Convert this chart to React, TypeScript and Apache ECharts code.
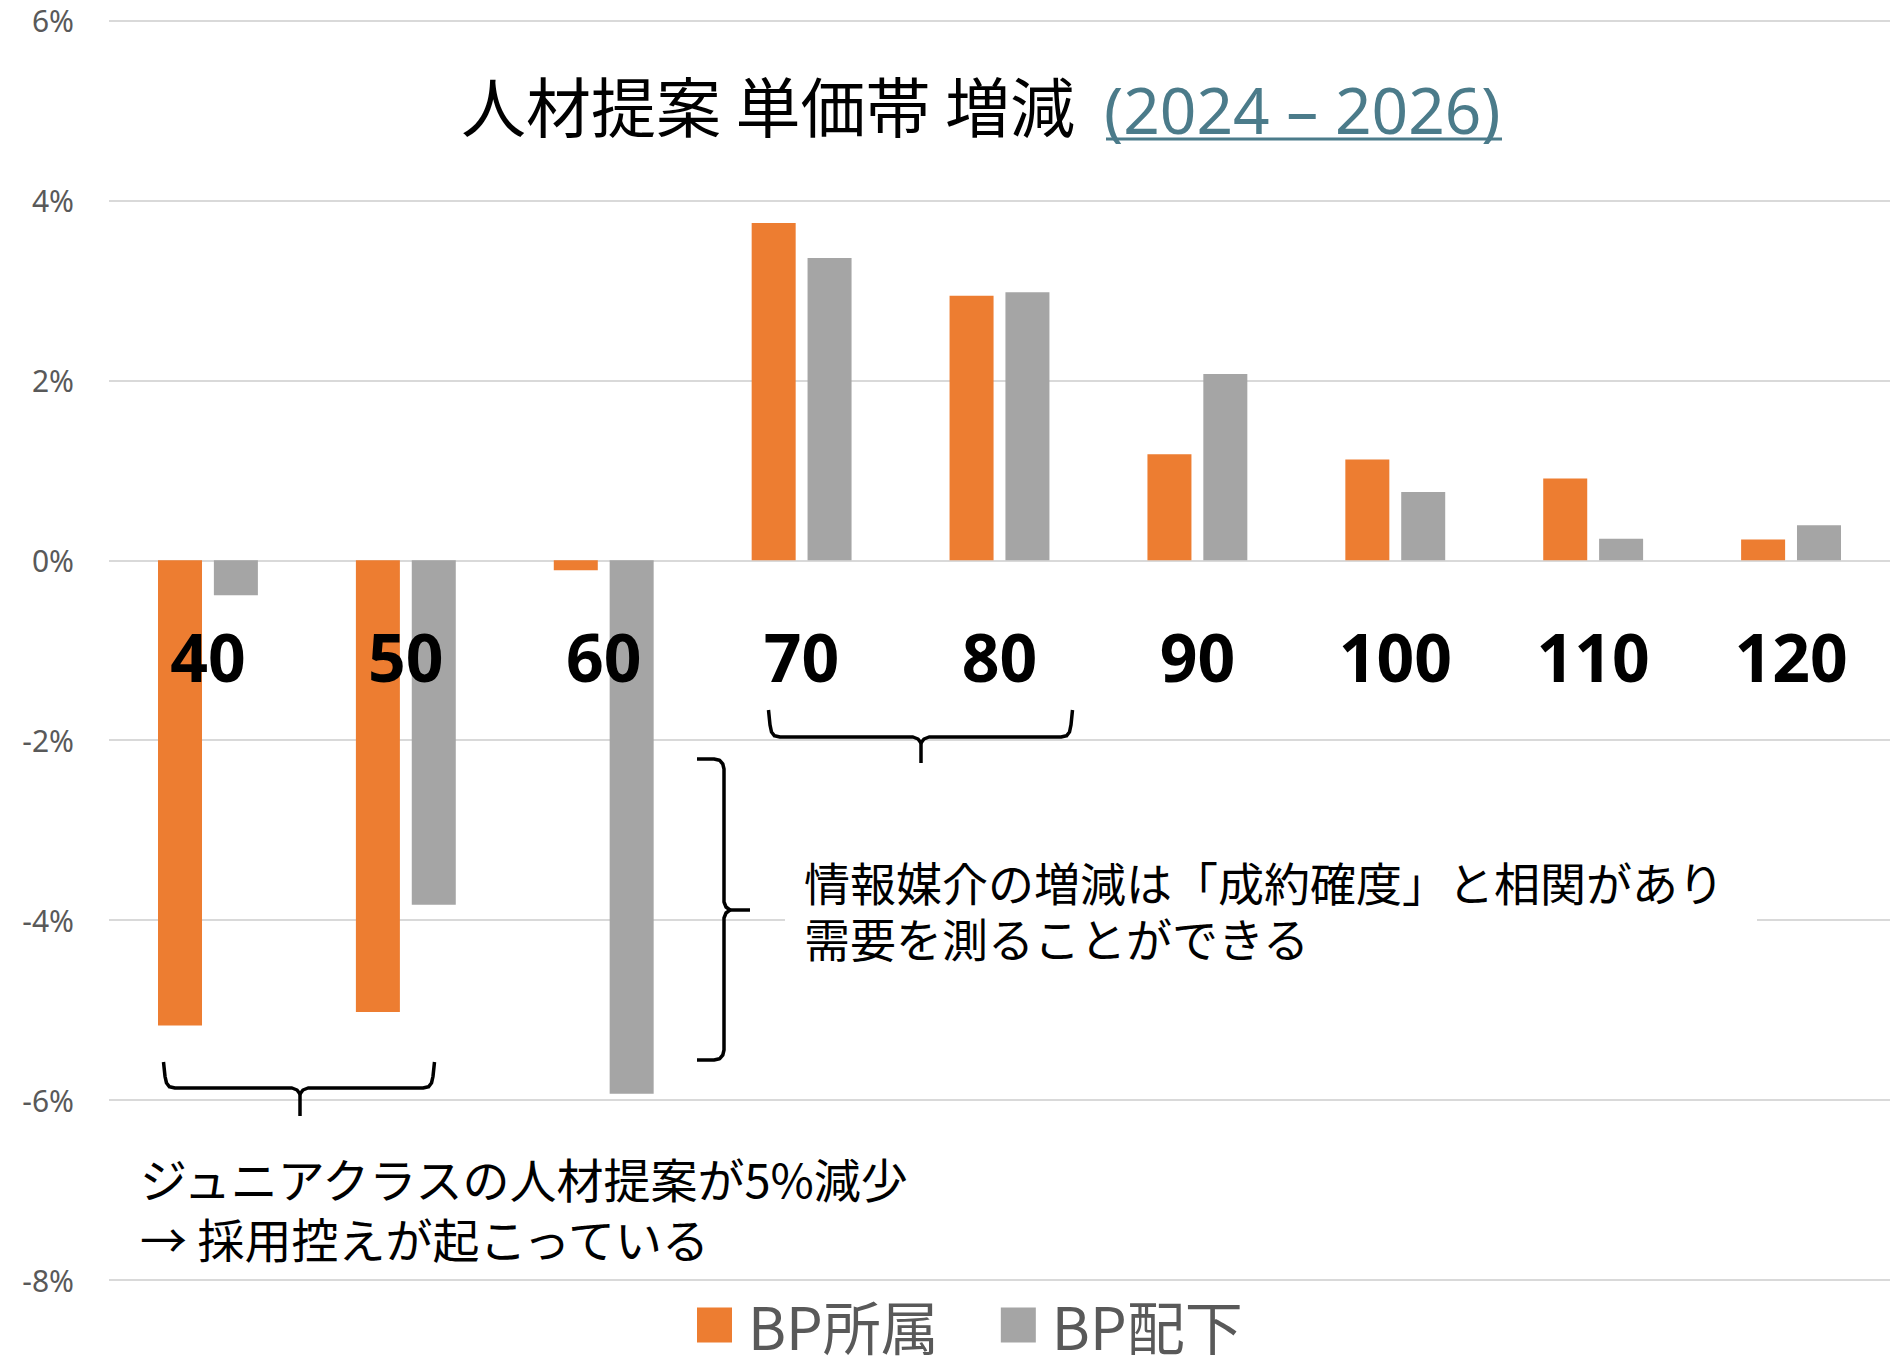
import React, { useEffect, useRef } from 'react';
import * as echarts from 'echarts';

// ---- data ----
const categories = ['40', '50', '60', '70', '80', '90', '100', '110', '120'];
const seriesNames = ['BP所属', 'BP配下'];
const bpShozoku = [-5.17, -5.02, -0.11, 3.75, 2.94, 1.18, 1.12, 0.91, 0.23];
const bpHaika = [-0.39, -3.83, -5.93, 3.36, 2.98, 2.07, 0.76, 0.24, 0.39];
const yMin = -8;
const yMax = 6;
const yStep = 2;

const titleMain = '人材提案 単価帯 増減';
const titleSub = '(2024 – 2026)';
const note1 = '情報媒介の増減は「成約確度」と相関があり\n需要を測ることができる';
const note2 = 'ジュニアクラスの人材提案が5%減少\n→ 採用控えが起こっている';

const JP = '"Noto Sans CJK JP", "Noto Sans", sans-serif';
const LAT = '"Noto Sans", "Noto Sans CJK JP", sans-serif';

// layout (pixels)
const W = 1892;
const H = 1357;
const GRID_TOP = 20.5;
const GRID_BOTTOM = 77;

type P = [number, number];

function hBrace(x1: number, x2: number, yTop: number, yBar: number, xm: number, yTip: number): P[][] {
  const main: P[] = [
    [x1 - 1.5, yTop], [x1, yTop + (yBar - yTop) * 0.55], [x1 + 1.5, yBar - 5], [x1 + 4.5, yBar - 1.2], [x1 + 10, yBar],
    [xm - 8, yBar], [xm - 3, yBar + 2], [xm, yBar + 6], [xm + 3, yBar + 2], [xm + 8, yBar],
    [x2 - 10, yBar], [x2 - 4.5, yBar - 1.2], [x2 - 1.5, yBar - 5], [x2, yTop + (yBar - yTop) * 0.55], [x2 + 1.5, yTop],
  ];
  const stub: P[] = [[xm, yBar + 3], [xm, yTip]];
  return [main, stub];
}

function vBrace(xEnd: number, xv: number, yTop: number, yBot: number, ym: number, xTip: number): P[][] {
  const main: P[] = [
    [xEnd, yTop], [xv - 10, yTop], [xv - 4.5, yTop + 1.2], [xv - 1.2, yTop + 5], [xv, yTop + 10],
    [xv, ym - 8], [xv + 2, ym - 3], [xv + 6, ym], [xv + 2, ym + 3], [xv, ym + 8],
    [xv, yBot - 10], [xv - 1.2, yBot - 5], [xv - 4.5, yBot - 1.2], [xv - 10, yBot], [xEnd, yBot],
  ];
  const stub: P[] = [[xv + 3, ym], [xTip, ym]];
  return [main, stub];
}

export default function App() {
  const ref = useRef<HTMLDivElement>(null);

  useEffect(() => {
    document.body.style.margin = '0';
    if (!ref.current) return;
    const chart = echarts.init(ref.current, undefined, { renderer: 'svg' });

    // place category axis on the zero line of the value axis
    const gridH = H - GRID_TOP - GRID_BOTTOM;
    const zeroFromBottom = ((0 - yMin) / (yMax - yMin)) * gridH;

    const braces = [
      ...hBrace(165, 433, 1062, 1088, 300, 1116),
      ...hBrace(770, 1071, 710, 737, 921, 763),
      ...vBrace(697, 724, 759, 1060, 910, 750),
    ].map((pts) => ({
      type: 'polyline',
      shape: { points: pts },
      style: { stroke: '#000', lineWidth: 3.5, fill: null, lineJoin: 'round' },
      z: 100,
    }));

    const option: any = {
      animation: false,
      backgroundColor: '#ffffff',
      grid: { left: 109, right: 2, top: GRID_TOP, bottom: GRID_BOTTOM, containLabel: false, outerBoundsMode: 'none' },
      legend: {
        data: seriesNames,
        left: 697,
        top: 1296,
        padding: 0,
        itemWidth: 35,
        itemHeight: 35,
        itemGap: 62,
        icon: 'rect',
        textStyle: { fontSize: 58, lineHeight: 58, color: '#595959', fontFamily: JP, padding: [0, 0, 0, 11] },
      },
      xAxis: {
        type: 'category',
        data: categories,
        position: 'bottom',
        offset: -zeroFromBottom,
        z: 10,
        axisLine: { show: false, onZero: false },
        axisTick: { show: false },
        axisLabel: {
          interval: 0,
          margin: 63,
          fontSize: 66,
          lineHeight: 66,
          fontWeight: 'bold',
          color: '#000000',
          fontFamily: LAT,
        },
      },
      yAxis: {
        type: 'value',
        min: yMin,
        max: yMax,
        interval: yStep,
        axisLine: { show: false },
        axisTick: { show: false },
        axisLabel: { formatter: '{value}%', color: '#595959', fontSize: 30, margin: 35, fontFamily: LAT },
        splitLine: { lineStyle: { color: '#d9d9d9', width: 2 } },
      },
      series: [
        {
          name: seriesNames[0],
          type: 'bar',
          data: bpShozoku,
          barWidth: 44,
          barGap: '27%',
          itemStyle: { color: '#ED7D31' },
        },
        {
          name: seriesNames[1],
          type: 'bar',
          data: bpHaika,
          barWidth: 44,
          barGap: '27%',
          itemStyle: { color: '#A5A5A5' },
        },
      ],
      graphic: [
        {
          type: 'text',
          x: 768,
          y: 104,
          z: 100,
          style: { text: titleMain, fontSize: 65, fontFamily: JP, fill: '#000000', align: 'center', verticalAlign: 'middle' },
        },
        {
          type: 'text',
          x: 1104,
          y: 109,
          z: 100,
          style: { text: titleSub, fontSize: 64, fontFamily: LAT, fill: '#4B7B8A', align: 'left', verticalAlign: 'middle' },
        },
        {
          type: 'line',
          z: 100,
          shape: { x1: 1106, y1: 139, x2: 1502, y2: 139 },
          style: { stroke: '#4B7B8A', lineWidth: 3 },
        },
        {
          type: 'rect',
          z: 50,
          shape: { x: 785, y: 845, width: 972, height: 125 },
          style: { fill: '#ffffff' },
        },
        {
          type: 'text',
          x: 804,
          y: 853,
          z: 100,
          style: { text: note1, fontSize: 46, lineHeight: 56, fontFamily: JP, fill: '#000000', align: 'left', verticalAlign: 'top' },
        },
        {
          type: 'text',
          x: 140,
          y: 1147,
          z: 100,
          style: { text: note2, fontSize: 47, lineHeight: 60, fontFamily: JP, fill: '#000000', align: 'left', verticalAlign: 'top' },
        },
        ...braces,
      ],
    };

    chart.setOption(option);
    return () => chart.dispose();
  }, []);

  return <div ref={ref} style={{ width: W, height: H }} />;
}
